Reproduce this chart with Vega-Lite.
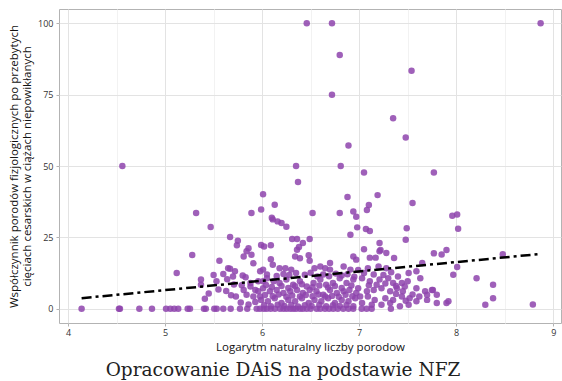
{
  "$schema": "https://vega.github.io/schema/vega-lite/v6.json",
  "width": 502,
  "height": 314,
  "autosize": {"type": "none"},
  "padding": {"left": 59, "top": 9, "right": 1, "bottom": 58},
  "background": "white",
  "config": {"view": {"stroke": "#b3b3b3", "strokeWidth": 1}, "font": "Open Sans"},
  "title": {"text": "Opracowanie DAiS na podstawie NFZ", "orient": "bottom", "anchor": "middle", "frame": "group", "font": "DejaVu Serif", "fontSize": 18.5, "fontWeight": "normal", "color": "#222222", "offset": 8, "dx": -27},
  "layer": [
    {
      "data": {"values": [
        {"x":4.14,"y":0},{"x":4.525,"y":0},{"x":4.535,"y":0},{"x":4.735,"y":0},{"x":4.865,"y":0},{"x":5.01,"y":0},{"x":5.054,"y":0},{"x":5.095,"y":0},{"x":5.136,"y":0},{"x":5.233,"y":0},{"x":5.257,"y":0},{"x":5.401,"y":0},{"x":5.42,"y":0},{"x":5.507,"y":0},{"x":5.532,"y":0},{"x":5.6,"y":0},{"x":5.676,"y":0},{"x":5.772,"y":0},{"x":5.847,"y":0},{"x":5.944,"y":0},{"x":5.978,"y":0},{"x":6.016,"y":0},{"x":6.047,"y":0},{"x":6.088,"y":0},{"x":6.132,"y":0},{"x":6.184,"y":0},{"x":6.22,"y":0},{"x":6.253,"y":0},{"x":6.29,"y":0},{"x":6.321,"y":0},{"x":6.35,"y":0},{"x":6.39,"y":0},{"x":6.42,"y":0},{"x":6.459,"y":0},{"x":6.5,"y":0},{"x":6.562,"y":0},{"x":6.6,"y":0},{"x":6.648,"y":0},{"x":6.69,"y":0},{"x":6.733,"y":0},{"x":6.78,"y":0},{"x":6.836,"y":0},{"x":6.89,"y":0},{"x":6.939,"y":0},{"x":7.026,"y":0},{"x":7.077,"y":0},{"x":7.129,"y":0},{"x":7.327,"y":0},
        {"x":6.46,"y":100},{"x":6.72,"y":100},{"x":8.87,"y":100},{"x":6.8,"y":88.9},{"x":7.54,"y":83.4},{"x":6.72,"y":75},{"x":7.35,"y":66.7},{"x":7.48,"y":60},{"x":6.89,"y":57.2},{"x":4.56,"y":50},{"x":6.35,"y":50},{"x":6.81,"y":50},{"x":7.05,"y":47.7},{"x":7.77,"y":47.7},{"x":6.37,"y":44.4},{"x":6.01,"y":40.1},{"x":7.19,"y":39.8},{"x":6.88,"y":39.1},{"x":7.55,"y":37},{"x":6.13,"y":36.4},{"x":7.1,"y":36.3},{"x":5.99,"y":34.8},{"x":7.08,"y":34.6},{"x":6.94,"y":34.1},{"x":5.89,"y":33.5},{"x":5.32,"y":33.5},{"x":6.52,"y":33.5},{"x":6.8,"y":33.5},{"x":7.96,"y":32.6},{"x":8.01,"y":33},{"x":6.97,"y":32.2},{"x":6.1,"y":31.9},{"x":6.11,"y":31.3},{"x":6.16,"y":30.6},{"x":6.2,"y":30},{"x":6.25,"y":28.7},{"x":5.47,"y":28.6},{"x":6.98,"y":28.5},{"x":7.49,"y":28.2},{"x":8.02,"y":28},{"x":7.07,"y":27.9},{"x":7.11,"y":27.2},{"x":6.91,"y":25.9},{"x":5.67,"y":25.1},{"x":7.48,"y":24.2},{"x":6.49,"y":24.4},{"x":6.31,"y":24.4},{"x":6.36,"y":24.4},{"x":6.42,"y":23},{"x":5.75,"y":23.8},{"x":5.74,"y":22.2},{"x":5.99,"y":22.3},{"x":6.02,"y":21.8},{"x":6.09,"y":22.2},{"x":6.38,"y":21.6},{"x":7.21,"y":23},{"x":7.22,"y":20.6},{"x":7.21,"y":20.1},{"x":7.05,"y":20.8},{"x":7.28,"y":19.5},{"x":5.86,"y":21.2},{"x":5.84,"y":20.1},{"x":6.36,"y":20.7},
        {"x":5.81,"y":18.3},{"x":5.28,"y":18.8},{"x":5.89,"y":18.9},{"x":6.34,"y":18.3},{"x":6.39,"y":17.7},{"x":6.48,"y":18.7},{"x":6.49,"y":16.8},{"x":6.94,"y":18.3},{"x":6.97,"y":17.2},{"x":7.11,"y":17.9},{"x":7.17,"y":17.9},{"x":7.36,"y":17.8},{"x":7.77,"y":19.4},{"x":7.85,"y":19},{"x":7.9,"y":20.6},{"x":8.48,"y":19.1},{"x":7.65,"y":16},{"x":5.91,"y":15.9},{"x":5.56,"y":16.8},{"x":6.09,"y":17.3},{"x":6.11,"y":15.4},{"x":6.7,"y":16},{"x":6.6,"y":14.8},{"x":6.84,"y":14.8},
        {"x":5.65,"y":14.2},{"x":5.67,"y":14},{"x":5.12,"y":12.5},{"x":5.5,"y":11.8},{"x":5.6,"y":12.2},{"x":5.7,"y":11.3},{"x":5.72,"y":13.1},{"x":5.8,"y":11.6},{"x":5.83,"y":11},{"x":5.64,"y":10.3},{"x":5.37,"y":10.2},{"x":5.53,"y":9.6},
        {"x":6.18,"y":14.2},{"x":6.24,"y":14.2},{"x":6.3,"y":13.7},{"x":5.98,"y":13.1},{"x":6.01,"y":13.7},{"x":6.54,"y":14.2},{"x":6.65,"y":14.2},{"x":6.7,"y":13.7},{"x":6.91,"y":13.7},{"x":6.99,"y":13.6},{"x":7.09,"y":14.2},{"x":7.2,"y":14.8},{"x":7.28,"y":14.2},{"x":8.01,"y":14.6},{"x":7.4,"y":11.3},{"x":7.51,"y":12.5},{"x":7.59,"y":13.1},{"x":7.63,"y":10.7},{"x":7.97,"y":11.9},{"x":8.21,"y":10.7},{"x":7.03,"y":10.7},{"x":7.11,"y":9.6},{"x":7.21,"y":10.2},{"x":7.3,"y":10.7},{"x":7.35,"y":9},{"x":7.44,"y":9},{"x":7.47,"y":7.8},
        {"x":6.05,"y":12},{"x":6.15,"y":11.5},{"x":6.22,"y":12.2},{"x":6.28,"y":11.8},{"x":6.35,"y":12.5},{"x":6.44,"y":11.9},{"x":6.5,"y":12.6},{"x":6.57,"y":11.3},{"x":6.63,"y":12},{"x":6.69,"y":11.4},{"x":6.76,"y":12.3},{"x":6.82,"y":11.6},{"x":6.88,"y":12.1},{"x":6.95,"y":11.2},{"x":7.05,"y":12.5},{"x":7.15,"y":12},{"x":7.25,"y":11.8},{"x":7.33,"y":12.8},
        {"x":6.05,"y":10.7},{"x":6.12,"y":9.6},{"x":6.18,"y":9},{"x":6.25,"y":10.2},{"x":6.32,"y":8.4},{"x":6.39,"y":9.6},{"x":6.46,"y":7.8},{"x":6.53,"y":9},{"x":6.6,"y":10.2},{"x":6.66,"y":8.4},{"x":6.73,"y":9},{"x":6.8,"y":10.7},{"x":6.87,"y":9},{"x":6.94,"y":10.2},
        {"x":6.01,"y":7.2},{"x":6.08,"y":6.1},{"x":6.15,"y":6.6},{"x":6.22,"y":5.5},{"x":6.29,"y":6.1},{"x":6.36,"y":6.6},{"x":6.42,"y":5.5},{"x":6.49,"y":6.6},{"x":6.56,"y":6.1},{"x":6.63,"y":4.9},{"x":6.7,"y":6.6},{"x":6.77,"y":5.5},{"x":6.84,"y":6.1},{"x":6.9,"y":6.6},{"x":6.97,"y":5.5},
        {"x":6.04,"y":8.3},{"x":6.1,"y":7.6},{"x":6.2,"y":8},{"x":6.27,"y":7.3},{"x":6.34,"y":7.9},{"x":6.41,"y":8.6},{"x":6.52,"y":7.5},{"x":6.59,"y":8.1},{"x":6.68,"y":7.4},{"x":6.75,"y":8},{"x":6.82,"y":7.3},{"x":6.92,"y":8.1},
        {"x":6.99,"y":7.2},{"x":7.08,"y":6.1},{"x":7.15,"y":6.6},{"x":7.23,"y":7.2},{"x":7.32,"y":6.1},{"x":7.39,"y":7.2},{"x":7.45,"y":6.1},{"x":7.59,"y":7.2},{"x":7.18,"y":8.4},{"x":7.27,"y":8.8},{"x":7.38,"y":8},{"x":7.5,"y":9.6},{"x":7.1,"y":8.2},{"x":7.68,"y":6.1},{"x":7.76,"y":6.6},{"x":7.55,"y":5},{"x":7.38,"y":5.2},
        {"x":5.37,"y":8.4},{"x":5.45,"y":5.3},{"x":5.41,"y":3.5},{"x":5.55,"y":6.7},{"x":5.63,"y":6.2},{"x":5.68,"y":4.7},{"x":5.71,"y":8.5},{"x":5.73,"y":4.3},{"x":5.81,"y":6.6},{"x":5.88,"y":7.8},{"x":5.93,"y":6.6},{"x":5.96,"y":6.1},{"x":5.84,"y":4.9},{"x":5.91,"y":4.3},{"x":5.98,"y":4.3},{"x":6.01,"y":9.6},{"x":5.96,"y":9.6},{"x":5.88,"y":9},{"x":5.79,"y":8.2},
        {"x":5.99,"y":3.1},{"x":6.06,"y":2.6},{"x":6.13,"y":3.7},{"x":6.2,"y":2},{"x":6.27,"y":3.1},{"x":6.34,"y":2.6},{"x":6.41,"y":3.7},{"x":6.48,"y":2},{"x":6.54,"y":3.1},{"x":6.61,"y":2.6},{"x":6.68,"y":3.7},{"x":6.75,"y":2},{"x":6.82,"y":3.1},{"x":6.89,"y":2.6},{"x":6.96,"y":3.7},
        {"x":6.03,"y":4.8},{"x":6.11,"y":4.4},{"x":6.17,"y":5},{"x":6.25,"y":4.2},{"x":6.31,"y":4.6},{"x":6.39,"y":4.3},{"x":6.45,"y":4.8},{"x":6.52,"y":4.4},{"x":6.58,"y":5},{"x":6.65,"y":4.3},{"x":6.72,"y":4.5},{"x":6.79,"y":4.2},{"x":6.86,"y":4.9},{"x":6.93,"y":4.4},
        {"x":6.02,"y":1.2},{"x":6.09,"y":0.9},{"x":6.16,"y":1.4},{"x":6.23,"y":1},{"x":6.3,"y":1.3},{"x":6.37,"y":0.8},{"x":6.44,"y":1.2},{"x":6.51,"y":1},{"x":6.59,"y":1.4},{"x":6.66,"y":0.9},{"x":6.73,"y":1.2},{"x":6.8,"y":1},{"x":6.87,"y":1.3},{"x":6.94,"y":0.9},
        {"x":7.01,"y":4.3},{"x":7.09,"y":4.3},{"x":7.16,"y":3.1},{"x":7.27,"y":3.7},{"x":7.35,"y":3.1},{"x":7.44,"y":4.3},{"x":7.52,"y":3.7},{"x":7.7,"y":3.1},{"x":7.8,"y":2},{"x":7.9,"y":2},{"x":7.03,"y":2},{"x":7.13,"y":1.4},{"x":7.23,"y":1.4},{"x":7.32,"y":2},{"x":7.42,"y":0.9},{"x":7.51,"y":1.4},{"x":7.59,"y":2.6},{"x":7.62,"y":4.3},{"x":7.48,"y":2.8},
        {"x":7.7,"y":4.9},{"x":7.75,"y":6.6},{"x":7.8,"y":4.9},{"x":7.92,"y":2.6},{"x":8.3,"y":1.4},{"x":8.38,"y":3.7},{"x":8.38,"y":8.4},{"x":8.79,"y":1.5},
        {"x":5.78,"y":2.2},{"x":5.86,"y":1.5},{"x":5.93,"y":2.4}
      ]},
      "mark": {"type": "circle", "size": 42, "color": "#8e44ad", "opacity": 0.85},
      "encoding": {
        "x": {"field": "x", "type": "quantitative",
          "scale": {"domain": [3.907, 9.08], "nice": false, "zero": false},
          "axis": {"title": "Logarytm naturalny liczby porodow", "values": [4,4.5,5,5.5,6,6.5,7,7.5,8,8.5,9],
            "labelExpr": "datum.value % 1 === 0 ? format(datum.value, 'd') : ''",
            "gridColor": {"condition": {"test": "datum.value % 1 !== 0", "value": "#f2f2f2"}, "value": "#e3e3e3"},
            "tickColor": {"condition": {"test": "datum.value % 1 !== 0", "value": "transparent"}, "value": "#b3b3b3"},
            "domain": false, "tickSize": 3, "labelPadding": 2, "labelFontSize": 9, "labelColor": "#333333", "labelFont": "Open Sans",
            "titleFont": "Open Sans", "titleFontSize": 11.5, "titleFontWeight": "normal", "titleColor": "#111111", "titlePadding": 4}},
        "y": {"field": "y", "type": "quantitative",
          "scale": {"domain": [-5, 105], "nice": false, "zero": false},
          "axis": {"title": ["Współczynnik porodów fizjologicznych po przebytych", "cięciach cesarskich w ciążach niepowikłanych"],
            "values": [0,12.5,25,37.5,50,62.5,75,87.5,100],
            "labelExpr": "datum.value % 25 === 0 ? format(datum.value, 'd') : ''",
            "gridColor": {"condition": {"test": "datum.value % 25 !== 0", "value": "#f2f2f2"}, "value": "#e3e3e3"},
            "tickColor": {"condition": {"test": "datum.value % 25 !== 0", "value": "transparent"}, "value": "#b3b3b3"},
            "domain": false, "tickSize": 3, "labelPadding": 3, "labelFontSize": 9, "labelColor": "#333333", "labelFont": "Open Sans",
            "titleFont": "Open Sans", "titleFontSize": 11.5, "titleFontWeight": "normal", "titleColor": "#111111", "titlePadding": 5, "titleLineHeight": 13}}
      }
    },
    {
      "data": {"values": [{"x": 4.14, "y": 3.7}, {"x": 8.87, "y": 19.2}]},
      "mark": {"type": "line", "color": "black", "strokeWidth": 2.5, "strokeDash": [10, 4, 3, 4]},
      "encoding": {"x": {"field": "x", "type": "quantitative"}, "y": {"field": "y", "type": "quantitative"}}
    }
  ]
}
